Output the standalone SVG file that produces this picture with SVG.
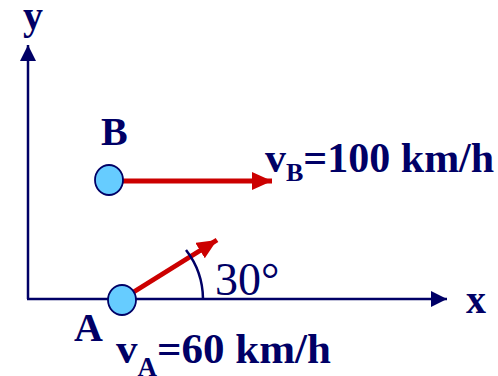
<svg xmlns="http://www.w3.org/2000/svg" width="498" height="376" viewBox="0 0 498 376">
<style>
.ax{stroke:#000066;stroke-width:2.5;fill:none}
.vel{stroke:#CC0000;stroke-width:5;fill:none}
.pt{fill:#66CCFF;stroke:#000066;stroke-width:1.8}
text{font-family:'Liberation Serif','DejaVu Serif',serif;fill:#000066}
.lb{font-weight:bold}
</style>
<defs>
<marker id="axh" viewBox="0 0 16 16" refX="16" refY="8" markerWidth="16" markerHeight="16" markerUnits="userSpaceOnUse" orient="auto"><path d="M0,0 L16,8 L0,16 Z" fill="#000066"/></marker>
<marker id="vh" viewBox="0 0 20 18" refX="20" refY="9" markerWidth="20" markerHeight="18" markerUnits="userSpaceOnUse" orient="auto"><path d="M0,0 L20,9 L0,18 Z" fill="#CC0000"/></marker>
</defs>
<g id="connectors">
<line class="ax" x1="28" y1="299" x2="28" y2="45" marker-end="url(#axh)"/>
<line class="ax" x1="27" y1="299" x2="447" y2="299" marker-end="url(#axh)"/>
<line class="vel" x1="123" y1="181" x2="272" y2="181" marker-end="url(#vh)"/>
<line class="vel" x1="132" y1="293" x2="217" y2="240" marker-end="url(#vh)"/>
<path class="ax" d="M203,299 A81,81 0 0 0 186,250" stroke-width="2"/>
</g>
<g id="axis-labels">
<text class="lb" x="23" y="29" font-size="40">y</text>
<text class="lb" x="466" y="313" font-size="40">x</text>
</g>
<g id="B">
<ellipse class="pt" cx="109" cy="180" rx="14" ry="15"/>
<text class="lb" x="101" y="145" font-size="40">B</text>
<text class="lb" x="265" y="172" font-size="42">v<tspan font-size="26" dy="9">B</tspan><tspan dy="-9">=100 km/h</tspan></text>
</g>
<g id="A">
<ellipse class="pt" cx="122" cy="300" rx="14" ry="15"/>
<text class="lb" x="74" y="341" font-size="40">A</text>
<text class="lb" x="116" y="363" font-size="43">v<tspan font-size="27" dy="13">A</tspan><tspan dy="-13">=60 km/h</tspan></text>
</g>
<g id="angle">
<text x="215" y="295" font-size="46">30°</text>
</g>
</svg>
